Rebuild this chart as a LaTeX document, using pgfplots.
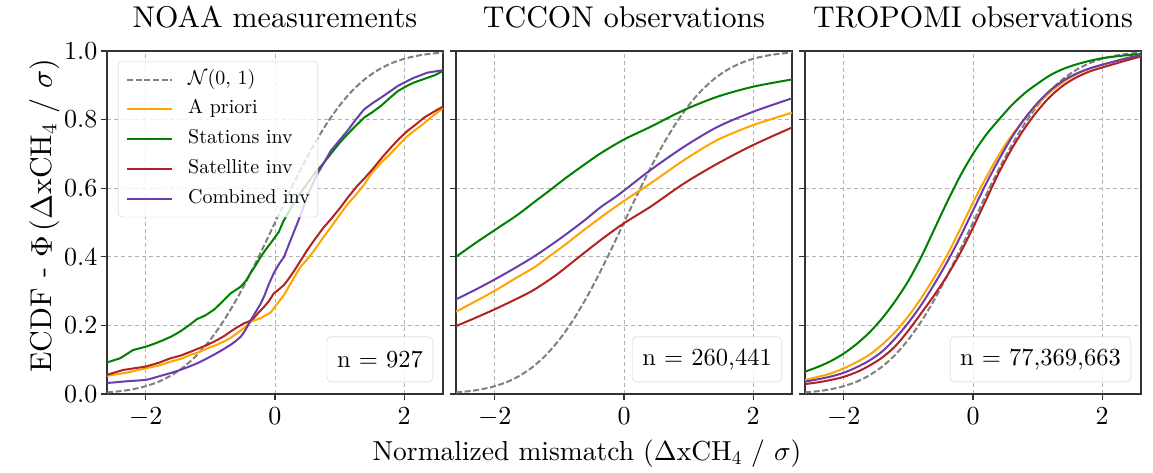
\documentclass[border=0pt]{standalone}
\usepackage{fontspec}
\setmainfont{lmroman10-regular.otf}
\DeclareFontShape{OT1}{cmr}{m}{n}{<->cmr10}{}
\DeclareFontShape{OML}{cmm}{m}{it}{<->cmmi10}{}
\DeclareFontShape{OMS}{cmsy}{m}{n}{<->cmsy10}{}
\DeclareFontShape{OMX}{cmex}{m}{n}{<->cmex10}{}
\usepackage{pgfplots}
\pgfplotsset{compat=1.18}
\definecolor{cOrange}{HTML}{FFA500}
\definecolor{cGreen}{HTML}{008000}
\definecolor{cRed}{HTML}{B22222}
\definecolor{cPurple}{HTML}{6A3DAF}
\definecolor{cGray}{HTML}{808080}
\newcommand\tickfont{\fontsize{26}{31}\selectfont}
\newcommand\titlefont{\fontsize{30}{36}\selectfont}
\newcommand\labfont{\fontsize{30}{36}\selectfont}
\newcommand\xlabfont{\fontsize{27.5}{33}\selectfont}
\newcommand\legfont{\fontsize{20}{24}\selectfont}
\newcommand\nfont{\fontsize{24.5}{29}\selectfont}
\pgfplotsset{
  panel/.style={
    width=336pt, height=343pt, scale only axis,
    xmin=-2.6, xmax=2.6, ymin=0, ymax=1,
    xtick={-2,0,2}, ytick={0,0.2,0.4,0.6,0.8,1.0},
    grid=major,
    major grid style={color=black!30, line width=0.8pt, dash pattern=on 4pt off 3pt},
    axis line style={black!80, line width=1.1pt},
    tick align=outside, major tick length=6pt,
    tick style={black!80, line width=1.1pt},
    xtick pos=bottom, ytick pos=left,
    tick label style={font=\tickfont},
    xticklabel style={anchor=base, yshift=-24pt},
    title style={font=\titlefont, at={(0.5,1)}, anchor=base, yshift=17pt},
    legend image code/.code={\draw[#1] (0pt,0pt) -- (45pt,0pt);},
  },
  nrm/.style={cGray, line width=2pt, dash pattern=on 6pt off 2.6pt, smooth},
  s1/.style={cOrange, line width=2pt},
  s2/.style={cGreen, line width=2pt},
  s3/.style={cRed, line width=2pt},
  s4/.style={cPurple, line width=2pt},
}
\pgfplotstableread{
x y
-2.6 0.0047
-2.4 0.0082
-2.2 0.0139
-2.0 0.0228
-1.8 0.0359
-1.6 0.0548
-1.4 0.0808
-1.2 0.1151
-1.0 0.1587
-0.8 0.2119
-0.6 0.2743
-0.4 0.3446
-0.2 0.4207
0.0 0.5000
0.2 0.5793
0.4 0.6554
0.6 0.7257
0.8 0.7881
1.0 0.8413
1.2 0.8849
1.4 0.9192
1.6 0.9452
1.8 0.9641
2.0 0.9772
2.2 0.9861
2.4 0.9918
2.6 0.9953
}\normaltab
% ---------------- NOAA
\pgfplotstableread{
x y
-2.6 0.053
-2.3 0.062
-2.0 0.075
-1.8 0.083
-1.62 0.094
-1.45 0.103
-1.31 0.114
-1.18 0.122
-1.05 0.133
-0.92 0.142
-0.79 0.153
-0.69 0.163
-0.59 0.177
-0.48 0.192
-0.38 0.210
-0.30 0.216
-0.22 0.221
-0.15 0.229
-0.07 0.237
0.03 0.262
0.14 0.289
0.26 0.328
0.39 0.370
0.50 0.393
0.60 0.417
0.73 0.452
0.86 0.485
1.00 0.522
1.12 0.553
1.25 0.580
1.38 0.611
1.50 0.645
1.64 0.674
1.77 0.698
1.90 0.723
2.02 0.747
2.15 0.767
2.28 0.785
2.41 0.806
2.6 0.833
}\noaaA
\pgfplotstableread{
x y
-2.6 0.092
-2.40 0.104
-2.28 0.118
-2.20 0.128
-2.00 0.138
-1.86 0.147
-1.73 0.157
-1.60 0.168
-1.47 0.182
-1.34 0.199
-1.21 0.218
-1.08 0.229
-0.95 0.245
-0.82 0.268
-0.69 0.293
-0.53 0.313
-0.45 0.330
-0.38 0.352
-0.30 0.375
-0.22 0.400
-0.14 0.422
-0.07 0.439
0.06 0.473
0.13 0.504
0.24 0.540
0.34 0.572
0.47 0.606
0.60 0.640
0.73 0.668
0.86 0.699
0.99 0.730
1.12 0.757
1.25 0.782
1.38 0.806
1.51 0.822
1.64 0.840
1.77 0.862
1.90 0.883
2.02 0.896
2.15 0.908
2.36 0.922
2.48 0.930
2.6 0.942
}\noaaS
\pgfplotstableread{
x y
-2.6 0.056
-2.35 0.070
-2.18 0.075
-2.0 0.080
-1.80 0.091
-1.62 0.104
-1.46 0.112
-1.31 0.123
-1.18 0.133
-1.05 0.143
-0.95 0.152
-0.85 0.162
-0.77 0.171
-0.69 0.182
-0.58 0.195
-0.48 0.206
-0.40 0.212
-0.33 0.221
-0.25 0.238
-0.17 0.254
-0.09 0.272
-0.02 0.293
0.06 0.305
0.14 0.318
0.22 0.338
0.30 0.360
0.40 0.390
0.49 0.417
0.62 0.452
0.75 0.485
0.88 0.513
1.01 0.543
1.14 0.576
1.27 0.606
1.40 0.632
1.53 0.660
1.66 0.690
1.79 0.718
1.92 0.744
2.05 0.767
2.18 0.786
2.31 0.806
2.45 0.822
2.6 0.838
}\noaaT
\pgfplotstableread{
x y
-2.6 0.032
-2.3 0.037
-2.0 0.041
-1.86 0.048
-1.73 0.055
-1.60 0.062
-1.47 0.070
-1.34 0.079
-1.21 0.089
-1.08 0.101
-0.95 0.114
-0.82 0.128
-0.69 0.143
-0.61 0.154
-0.53 0.167
-0.48 0.180
-0.43 0.196
-0.36 0.220
-0.28 0.245
-0.22 0.264
-0.17 0.284
-0.10 0.318
-0.02 0.352
0.06 0.378
0.14 0.400
0.24 0.448
0.34 0.495
0.42 0.535
0.49 0.572
0.57 0.607
0.65 0.640
0.76 0.675
0.86 0.708
0.99 0.738
1.12 0.767
1.25 0.800
1.38 0.830
1.51 0.848
1.64 0.864
1.77 0.881
1.90 0.898
2.02 0.910
2.15 0.922
2.36 0.937
2.6 0.944
}\noaaC
% ---------------- TCCON
\pgfplotstableread{
x y
-2.6 0.240
-2.3 0.270
-2.0 0.301
-1.7 0.335
-1.4 0.368
-1.2 0.395
-0.9 0.437
-0.62 0.478
-0.3 0.523
0.0 0.563
0.41 0.614
0.93 0.682
1.45 0.741
2.0 0.784
2.6 0.820
}\tcA
\pgfplotstableread{
x y
-2.6 0.400
-2.3 0.440
-2.0 0.478
-1.65 0.522
-1.4 0.558
-1.14 0.595
-0.9 0.630
-0.62 0.668
-0.36 0.702
0.0 0.742
0.41 0.779
0.93 0.828
1.45 0.867
2.0 0.896
2.6 0.917
}\tcS
\pgfplotstableread{
x y
-2.6 0.198
-2.3 0.222
-2.0 0.247
-1.7 0.274
-1.4 0.303
-1.05 0.347
-0.72 0.396
-0.36 0.449
0.0 0.498
0.41 0.546
0.93 0.614
1.45 0.672
2.0 0.726
2.6 0.777
}\tcT
\pgfplotstableread{
x y
-2.6 0.276
-2.3 0.304
-2.0 0.334
-1.7 0.366
-1.4 0.400
-1.14 0.433
-0.88 0.468
-0.6 0.508
-0.36 0.545
-0.15 0.572
0.0 0.593
0.41 0.653
0.93 0.721
1.45 0.779
2.0 0.823
2.6 0.862
}\tcC
% ---------------- TROPOMI
\pgfplotstableread{
x y
-2.6 0.041
-2.4 0.050
-2.2 0.060
-2.0 0.075
-1.8 0.093
-1.6 0.115
-1.4 0.145
-1.2 0.182
-1.0 0.227
-0.8 0.280
-0.6 0.340
-0.4 0.405
-0.2 0.480
0.0 0.558
0.2 0.630
0.4 0.697
0.6 0.754
0.8 0.802
1.0 0.845
1.2 0.881
1.4 0.910
1.6 0.932
1.8 0.948
2.0 0.960
2.2 0.970
2.4 0.979
2.6 0.987
}\trA
\pgfplotstableread{
x y
-2.6 0.065
-2.4 0.079
-2.2 0.096
-2.0 0.118
-1.8 0.146
-1.6 0.180
-1.4 0.222
-1.2 0.272
-1.0 0.330
-0.8 0.400
-0.6 0.480
-0.4 0.560
-0.2 0.635
0.0 0.700
0.2 0.755
0.4 0.800
0.6 0.842
0.8 0.877
1.0 0.905
1.2 0.930
1.4 0.948
1.6 0.961
1.8 0.971
2.0 0.979
2.2 0.984
2.4 0.988
2.6 0.991
}\trS
\pgfplotstableread{
x y
-2.6 0.029
-2.4 0.034
-2.2 0.041
-2.0 0.050
-1.8 0.064
-1.6 0.083
-1.4 0.107
-1.2 0.140
-1.0 0.185
-0.8 0.236
-0.6 0.288
-0.4 0.345
-0.2 0.410
0.0 0.485
0.2 0.565
0.4 0.645
0.6 0.715
0.8 0.775
1.0 0.826
1.2 0.868
1.4 0.900
1.6 0.923
1.8 0.940
2.0 0.952
2.2 0.963
2.4 0.974
2.6 0.984
}\trT
\pgfplotstableread{
x y
-2.6 0.036
-2.4 0.043
-2.2 0.051
-2.0 0.062
-1.8 0.078
-1.6 0.098
-1.4 0.125
-1.2 0.163
-1.0 0.208
-0.8 0.260
-0.6 0.320
-0.4 0.385
-0.2 0.457
0.0 0.535
0.2 0.612
0.4 0.683
0.6 0.748
0.8 0.803
1.0 0.849
1.2 0.886
1.4 0.914
1.6 0.934
1.8 0.949
2.0 0.960
2.2 0.970
2.4 0.980
2.6 0.988
}\trC
\begin{document}
\begin{tikzpicture}
\useasboundingbox (-107pt,-78pt) rectangle (1046pt,394pt);
% ---------- panel 1
\begin{axis}[panel, at={(0pt,0pt)}, anchor=south west,
  title={NOAA measurements},
  yticklabel style={/pgf/number format/.cd, fixed, fixed zerofill, precision=1},
  ylabel={ECDF - $\Phi\,(\Delta\mathrm{xCH}_4\ /\ \sigma)$},
  ylabel style={font=\labfont, at={(axis description cs:-0.1637,0.52)}, anchor=base},
  legend cell align=left,
  legend style={at={(0,1)}, anchor=north west, xshift=11pt, yshift=-10pt,
    draw=black!20, rounded corners=4pt, fill=white, fill opacity=0.8, text opacity=1,
    font=\legfont, inner xsep=8pt, inner ysep=9.5pt, row sep=11.7pt,
    nodes={inner sep=0pt, text height=13.5pt, text depth=4.5pt},
    /tikz/column 1/.style={column sep=15pt}},
]
\addplot[nrm] table {\normaltab};
\addplot[s1] table {\noaaA};
\addplot[s2] table {\noaaS};
\addplot[s3] table {\noaaT};
\addplot[s4] table {\noaaC};
\legend{{$\mathcal{N}(0,\,1)$}, A priori, Stations inv, Satellite inv, Combined inv}
\node[draw=black!20, rounded corners=4pt, fill=white, fill opacity=0.8, text opacity=1,
  font=\nfont, anchor=south east, inner xsep=10pt, minimum height=45pt]
  at (rel axis cs:1,0) [xshift=-10pt, yshift=12pt] {n = 927};
\end{axis}
% ---------- panel 2
\begin{axis}[panel, at={(349pt,0pt)}, anchor=south west,
  title={TCCON observations}, yticklabels={},
  xlabel={Normalized mismatch ($\Delta$xCH$_4$ / $\sigma$)},
  xlabel style={font=\xlabfont, at={(axis description cs:0.5,0)}, anchor=base, xshift=-37pt, yshift=-66pt},
]
\addplot[nrm] table {\normaltab};
\addplot[s1, smooth] table {\tcA};
\addplot[s2, smooth] table {\tcS};
\addplot[s3, smooth] table {\tcT};
\addplot[s4, smooth] table {\tcC};
\node[draw=black!20, rounded corners=4pt, fill=white, fill opacity=0.8, text opacity=1,
  font=\nfont, anchor=south east, inner xsep=10pt, minimum height=45pt]
  at (rel axis cs:1,0) [xshift=-10pt, yshift=12pt] {n = 260,441};
\end{axis}
% ---------- panel 3
\begin{axis}[panel, at={(698pt,0pt)}, anchor=south west,
  title={TROPOMI observations}, yticklabels={},
]
\addplot[nrm] table {\normaltab};
\addplot[s1, smooth] table {\trA};
\addplot[s2, smooth] table {\trS};
\addplot[s3, smooth] table {\trT};
\addplot[s4, smooth] table {\trC};
\node[draw=black!20, rounded corners=4pt, fill=white, fill opacity=0.8, text opacity=1,
  font=\nfont, anchor=south east, inner xsep=10pt, minimum height=45pt]
  at (rel axis cs:1,0) [xshift=-10pt, yshift=12pt] {n = 77,369,663};
\end{axis}
\end{tikzpicture}
\end{document}
